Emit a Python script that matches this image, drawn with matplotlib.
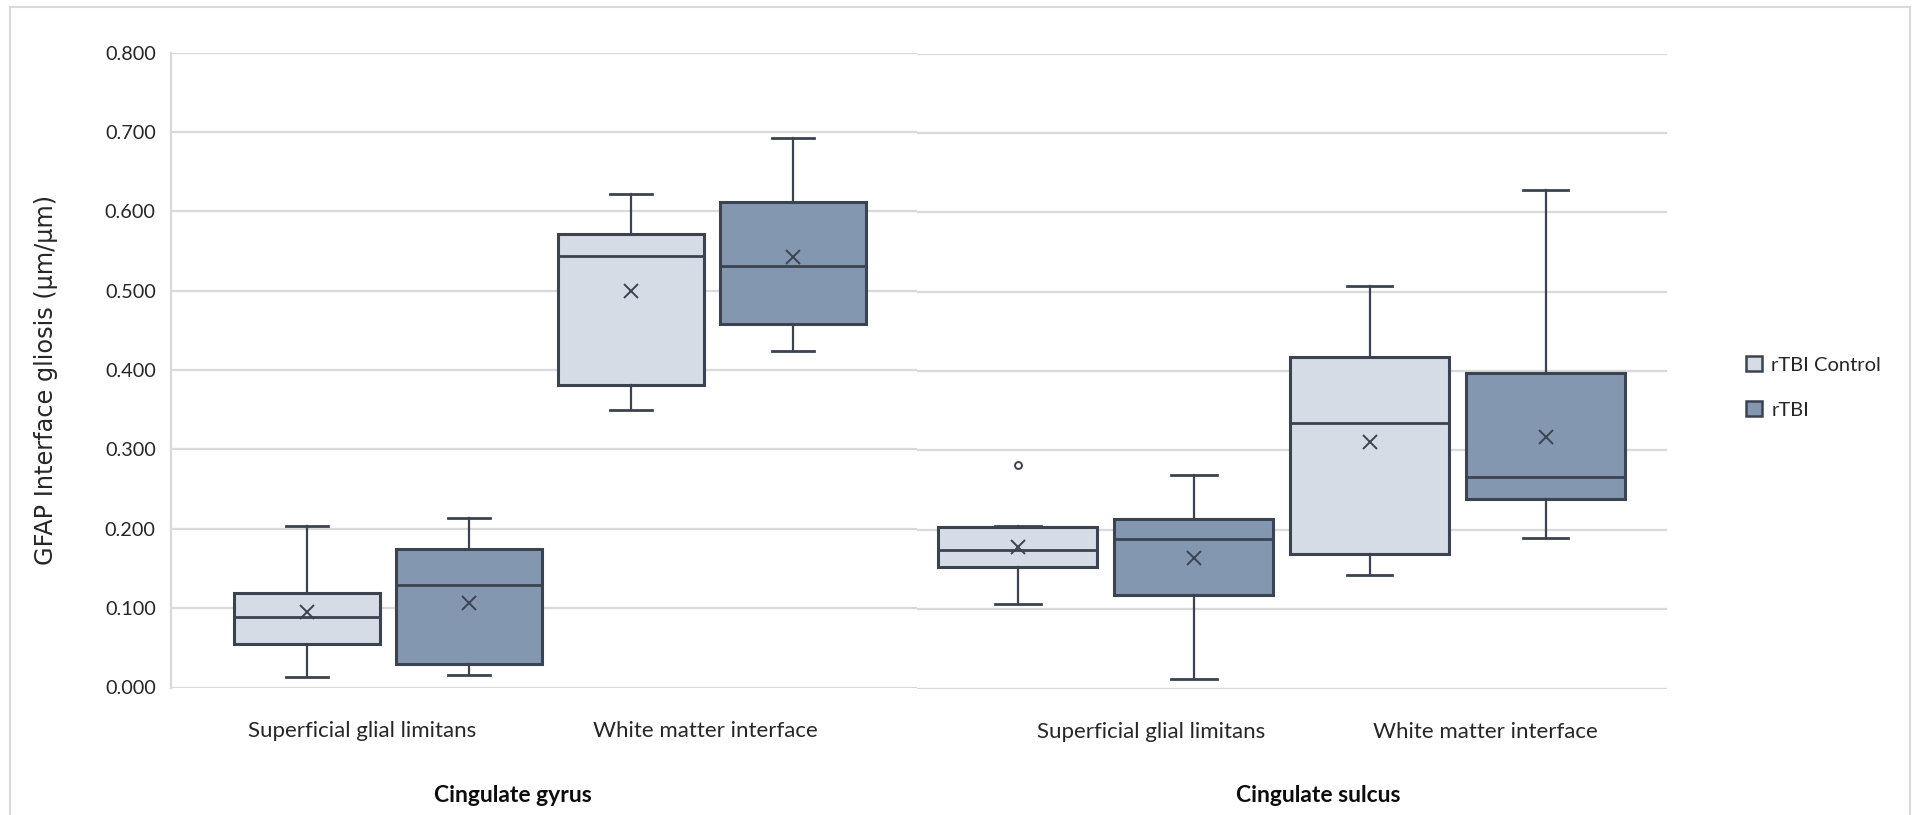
import matplotlib.pyplot as plt
from matplotlib.patches import Patch, Rectangle

plt.rcParams['font.family'] = ['Lato', 'DejaVu Sans']

# Box statistics per region: whisker low, Q1, median, Q3, whisker high, mean
gyrus_labels = ['Superficial glial limitans', 'White matter interface']
sulcus_labels = ['Superficial glial limitans', 'White matter interface']
series = ['rTBI Control', 'rTBI']

gyrus_control = [[0.013, 0.055, 0.089, 0.119, 0.203, 0.095],
                 [0.350, 0.381, 0.544, 0.571, 0.622, 0.500]]
gyrus_rtbi = [[0.016, 0.029, 0.129, 0.174, 0.214, 0.107],
              [0.424, 0.458, 0.531, 0.612, 0.692, 0.542]]
sulcus_control = [[0.106, 0.153, 0.175, 0.203, 0.205, 0.178],
                  [0.143, 0.170, 0.334, 0.418, 0.507, 0.311]]
sulcus_rtbi = [[0.012, 0.118, 0.188, 0.213, 0.269, 0.164],
               [0.190, 0.239, 0.266, 0.397, 0.628, 0.317]]
sulcus_control_outliers = [[0.282], []]

fill_colors = ['#d6dce5', '#8497b0']
edge = '#3b4350'
grid = '#d9d9d9'
txt = '#262626'

W, H = 1917, 815
fig = plt.figure(figsize=(W / 100, H / 100), dpi=100)
fig.patch.set_facecolor('white')
fig.add_artist(Rectangle((10 / W, -0.1), 1900 / W, 1.1 - 7 / H, transform=fig.transFigure,
                         fill=False, edgecolor=grid, linewidth=1.5))


def make_stats(rows, outliers=None):
    out = []
    for i, r in enumerate(rows):
        out.append(dict(whislo=r[0], q1=r[1], med=r[2], q3=r[3], whishi=r[4], mean=r[5],
                        fliers=outliers[i] if outliers else []))
    return out


def draw_panel(ax, control, rtbi, xlim, ticks_at, labels, outliers=None):
    for k, (rows, fliers) in enumerate([(control, outliers), (rtbi, None)]):
        pos = [i + (-0.25 if k == 0 else 0.25) for i in range(len(rows))]
        ax.bxp(make_stats(rows, fliers), positions=pos, widths=0.45, capwidths=0.13,
               patch_artist=True, showmeans=True, manage_ticks=False,
               boxprops=dict(facecolor=fill_colors[k], edgecolor=edge, linewidth=2.2),
               medianprops=dict(color=edge, linewidth=2),
               whiskerprops=dict(color=edge, linewidth=1.6),
               capprops=dict(color=edge, linewidth=2),
               meanprops=dict(marker='x', markersize=10, markeredgecolor=edge,
                              markeredgewidth=1.4),
               flierprops=dict(marker='o', markersize=5, markerfacecolor='none',
                               markeredgecolor=edge, markeredgewidth=1.4))
    ax.set_xlim(xlim)
    ax.set_ylim(0, 0.8)
    ax.set_yticks([i / 10 for i in range(9)])
    ax.yaxis.grid(True, color=grid, linewidth=1.6)
    ax.set_axisbelow(True)
    for s in ['top', 'right', 'bottom']:
        ax.spines[s].set_visible(False)
    ax.spines['left'].set_color(grid)
    ax.spines['left'].set_linewidth(1.6)
    ax.set_xticks(ticks_at)
    ax.set_xticklabels(labels, fontsize=16, color=txt)
    ax.tick_params(axis='x', length=0, pad=24)
    ax.tick_params(axis='y', length=0, pad=11, labelsize=14.3, labelcolor=txt)
    ax.set_facecolor('none')


ax1 = fig.add_axes([171 / W, 1 - 687.5 / H, 746 / W, 635 / H])
draw_panel(ax1, gyrus_control, gyrus_rtbi, (-0.671, 1.632), [-0.08, 0.98], gyrus_labels)
ax1.yaxis.set_major_formatter(plt.FormatStrFormatter('%.3f'))
ax1.set_ylabel('GFAP Interface gliosis (µm/µm)', fontsize=17.3, color=txt,
               family=['DejaVu Sans'])
ax1.yaxis.set_label_coords(-0.152, 0.485)

ax2 = fig.add_axes([917 / W, 1 - 688.5 / H, 750 / W, 635 / H])
draw_panel(ax2, sulcus_control, sulcus_rtbi, (-0.536, 1.595), [0.13, 1.08], sulcus_labels,
           sulcus_control_outliers)
ax2.spines['left'].set_visible(False)
ax2.tick_params(axis='y', labelleft=False)

fig.text(513 / W, 1 - 796 / H, 'Cingulate gyrus', ha='center', va='center',
         fontsize=16.5, fontweight='bold', color='#0d0d0d')
fig.text(1318 / W, 1 - 796 / H, 'Cingulate sulcus', ha='center', va='center',
         fontsize=16.5, fontweight='bold', color='#0d0d0d')

handles = [Patch(facecolor=c, edgecolor=edge, linewidth=1.8) for c in fill_colors]
fig.legend(handles, series, loc='upper left', bbox_to_anchor=(1746 / W, 1 - 356 / H),
           frameon=False, fontsize=14.5, handlelength=0.8, handleheight=0.8,
           handletextpad=0.45, labelspacing=1.35, borderpad=0, borderaxespad=0,
           labelcolor=txt)

fig.savefig('out.png', dpi=100, facecolor='white')
